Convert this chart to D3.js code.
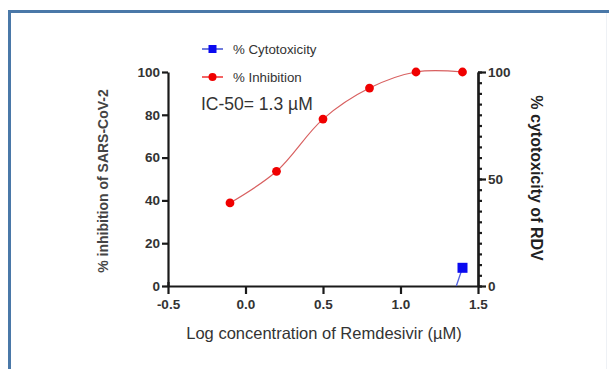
<!DOCTYPE html>
<html>
<head>
<meta charset="utf-8">
<script src="https://d3js.org/d3.v7.min.js"></script>
<style>
  body { margin: 0; background: #fff; }
  svg { display: block; font-family: "Liberation Sans", Arial, sans-serif; }
</style>
</head>
<body>
<script>
// data
const logConc = [-0.1, 0.2, 0.5, 0.8, 1.1, 1.4];
const inhibition = [38.8, 53.6, 78, 92.5, 100, 100];
const cytoConc = [1.4];
const cytotoxicity = [8.5];
// short bit of the fitted cytotoxicity curve visible near the axis
const cytoFitX = [1.36, 1.4];
const cytoFitY = [0, 8.5];
const xTicks = [-0.5, 0, 0.5, 1, 1.5];
const yLeftTicks = [0, 20, 40, 60, 80, 100];
const yRightMajor = [0, 50, 100];
const yRightMinor = d3.range(0, 101, 5);

const width = 609, height = 369;
const svg = d3.select('body').append('svg')
    .attr('width', width)
    .attr('height', height);

// panel frame
svg.append('line').attr('x1', 8).attr('x2', width).attr('y1', 11.5).attr('y2', 11.5)
    .attr('stroke', '#4a78a8').attr('stroke-width', 3);
svg.append('line').attr('x1', 9.5).attr('x2', 9.5).attr('y1', 10).attr('y2', height)
    .attr('stroke', '#4a78a8').attr('stroke-width', 3);
svg.append('line').attr('x1', 606.5).attr('x2', 606.5).attr('y1', 13).attr('y2', height)
    .attr('stroke', '#eef1f5').attr('stroke-width', 1);

const x = d3.scaleLinear().domain([-0.5, 1.5]).range([168, 478]);
const yL = d3.scaleLinear().domain([0, 100]).range([286, 72]);
const yR = d3.scaleLinear().domain([0, 100]).range([286, 72]);

const ink = '#1a1a1a';
const tickFont = 'bold 13.5px "Liberation Sans", Arial, sans-serif';

// x axis
const gx = svg.append('g').attr('transform', `translate(0,${yL(0)})`)
    .call(d3.axisBottom(x).tickValues(xTicks)
        .tickFormat(d => d3.format('.1f')(d).replace('\u2212', '-'))
        .tickSize(8).tickSizeOuter(0).tickPadding(5));
// left axis
const gyl = svg.append('g').attr('transform', `translate(${x(-0.5)},0)`)
    .call(d3.axisLeft(yL).tickValues(yLeftTicks).tickSize(6).tickSizeOuter(0).tickPadding(2));
// right axis: minor ticks then major with labels
const gyr = svg.append('g').attr('transform', `translate(${x(1.5)},0)`)
    .call(d3.axisRight(yR).tickValues(yRightMinor).tickSize(4).tickSizeOuter(0).tickFormat(''));
const gyr2 = svg.append('g').attr('transform', `translate(${x(1.5)},0)`)
    .call(d3.axisRight(yR).tickValues(yRightMajor).tickSize(8).tickSizeOuter(0).tickPadding(2));

[gx, gyl, gyr, gyr2].forEach(g => {
    g.select('.domain').attr('stroke', ink).attr('stroke-width', 2.2);
    g.selectAll('.tick line').attr('stroke', ink).attr('stroke-width', 2.2);
    g.selectAll('.tick text').attr('fill', '#333').style('font', tickFont);
});
// the -0.5 tick crosses the axis line slightly
gx.select('.tick line').attr('y1', -4);

// inhibition fitted curve and points
const line = d3.line().x((d, i) => x(logConc[i])).y(d => yL(d)).curve(d3.curveCatmullRom.alpha(0.5));
svg.append('path').datum(inhibition)
    .attr('d', line)
    .attr('fill', 'none').attr('stroke', '#d86060').attr('stroke-width', 1.2);
svg.selectAll('circle.inh').data(inhibition).join('circle')
    .attr('class', 'inh')
    .attr('cx', (d, i) => x(logConc[i])).attr('cy', d => yL(d))
    .attr('r', 4.4).attr('fill', '#f00000');

// cytotoxicity
svg.append('path').datum(cytoFitY)
    .attr('d', d3.line().x((d, i) => x(cytoFitX[i])).y(d => yR(d)))
    .attr('fill', 'none').attr('stroke', '#5060e0').attr('stroke-width', 1.3);
svg.selectAll('rect.cyto').data(cytotoxicity).join('rect')
    .attr('class', 'cyto')
    .attr('x', (d, i) => x(cytoConc[i]) - 5).attr('y', d => yR(d) - 5)
    .attr('width', 10).attr('height', 10).attr('fill', '#0a0af0');

// legend
const legend = [
    { label: '% Cytotoxicity', color: '#0a0af0', line: '#4050d0', shape: 'square', y: 49 },
    { label: '% Inhibition', color: '#f00000', line: '#f03030', shape: 'circle', y: 77 }
];
legend.forEach(l => {
    svg.append('line').attr('x1', 202).attr('x2', 223).attr('y1', l.y).attr('y2', l.y)
        .attr('stroke', l.line).attr('stroke-width', 1.5);
    if (l.shape === 'square') {
        svg.append('rect').attr('x', 208.5).attr('y', l.y - 4).attr('width', 8).attr('height', 8).attr('fill', l.color);
    } else {
        svg.append('circle').attr('cx', 212.5).attr('cy', l.y).attr('r', 4).attr('fill', l.color);
    }
    svg.append('text').attr('x', 233).attr('y', l.y).attr('dy', '0.35em')
        .attr('fill', '#333').style('font-size', '13.3px').text(l.label);
});

svg.append('text').attr('x', 201).attr('y', 110)
    .attr('fill', '#333').style('font-size', '17.5px').text('IC-50= 1.3 µM');

// axis titles
svg.append('text')
    .attr('transform', `translate(108,181) rotate(-90)`)
    .attr('text-anchor', 'middle').attr('fill', '#444')
    .style('font-size', '14px').style('font-weight', 'bold')
    .text('% inhibition of SARS-CoV-2');
svg.append('text')
    .attr('transform', `translate(531,178) rotate(90)`)
    .attr('text-anchor', 'middle').attr('fill', '#222')
    .style('font-size', '16px').style('font-weight', 'bold')
    .text('% cytotoxicity of RDV');
svg.append('text')
    .attr('x', 324).attr('y', 339)
    .attr('text-anchor', 'middle').attr('fill', '#333')
    .style('font-size', '16.5px')
    .text('Log concentration of Remdesivir (µM)');
</script>
</body>
</html>
